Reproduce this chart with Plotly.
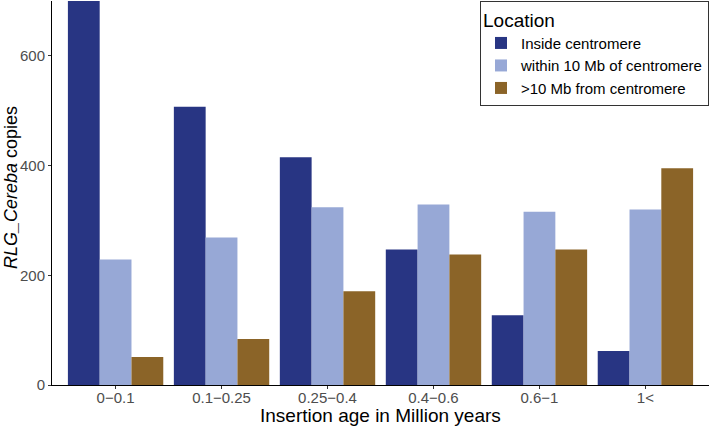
import plotly.graph_objects as go

categories = ["0\u22120.1", "0.1\u22120.25", "0.25\u22120.4", "0.4\u22120.6", "0.6\u22121", "1<"]
inside = [700, 507, 415, 247, 127, 62]
within10 = [229, 269, 324, 329, 316, 320]
beyond10 = [51, 84, 171, 238, 247, 395]
series_names = ["Inside centromere", "within 10 Mb of centromere", ">10 Mb from centromere"]
colors = ["#283583", "#97a8d6", "#8b6428"]

fig = go.Figure()
for name, vals, col in zip(series_names, [inside, within10, beyond10], colors):
    fig.add_trace(go.Bar(x=categories, y=vals, name=name, marker=dict(color=col, line=dict(width=0))))

font_family = "Liberation Sans, Arial, sans-serif"
fig.update_layout(
    width=711, height=426,
    margin=dict(l=52, r=2, t=1, b=41, autoexpand=False),
    paper_bgcolor="white", plot_bgcolor="white",
    barmode="group", bargap=0.1, bargroupgap=0,
    font=dict(family=font_family, color="black"),
    legend=dict(
        x=1, y=1, xanchor="right", yanchor="top",
        bordercolor="#333333", borderwidth=1, bgcolor="white",
        title=dict(text="Location", font=dict(size=19, color="black")),
        font=dict(size=15, color="black"),
        tracegroupgap=0,
    ),
    showlegend=True,
    annotations=[
        dict(text="Insertion age in Million years", xref="paper", yref="paper",
             x=0.5, y=0, yshift=-18, xanchor="center", yanchor="top", showarrow=False,
             font=dict(size=19, color="black")),
        dict(text="<i>RLG_Cereba</i> copies", xref="paper", yref="paper",
             x=0, y=0.5, xshift=-41, yshift=5, xanchor="center", yanchor="middle", showarrow=False,
             textangle=-90, font=dict(size=18, color="black")),
    ],
)
fig.update_xaxes(
    range=[-0.6, 5.6], showline=True, linecolor="black", linewidth=1,
    ticks="outside", ticklen=3, tickcolor="#333333", ticklabelstandoff=-4,
    tickfont=dict(size=15, color="#4d4d4d"), automargin=False,
    showgrid=False, zeroline=False,
)
fig.update_yaxes(
    range=[0, 700], showline=True, linecolor="black", linewidth=1,
    ticks="outside", ticklen=3, tickcolor="#333333",
    tickvals=[0, 200, 400, 600], automargin=False,
    tickfont=dict(size=15, color="#4d4d4d"),
    showgrid=False, zeroline=False,
)
fig.write_html("out.html", config={"displayModeBar": False},
               post_script="document.body.style.margin='0';document.body.style.overflow='hidden';")
